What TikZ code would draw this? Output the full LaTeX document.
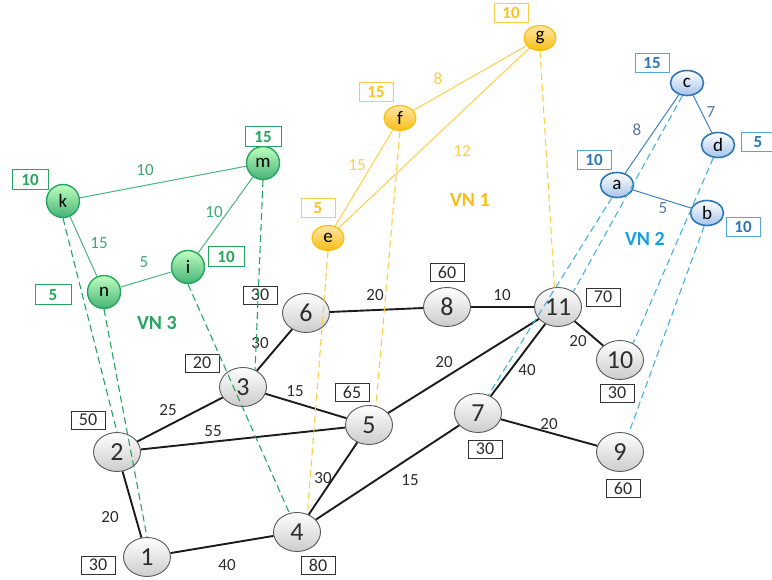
\documentclass[tikz,border=0pt]{standalone}
\usepackage{fontspec}
\setmainfont{Carlito}
\usetikzlibrary{shapes.geometric}

\definecolor{pline}{RGB}{28,28,28}
\definecolor{ptext}{RGB}{45,45,45}
\definecolor{vgreen}{RGB}{36,166,94}
\definecolor{vgreenL}{RGB}{72,182,122}
\definecolor{vgreenT}{RGB}{62,170,112}
\definecolor{vgold}{RGB}{248,190,20}
\definecolor{vgoldL}{RGB}{252,206,70}
\definecolor{vgoldT}{RGB}{250,194,30}
\definecolor{vblue}{RGB}{46,117,182}
\definecolor{vblueL}{RGB}{70,176,226}
\definecolor{vblueB}{RGB}{84,166,216}
\definecolor{vblueE}{RGB}{64,128,190}
\definecolor{vblueT}{RGB}{88,118,160}
\definecolor{vblueF}{RGB}{165,195,235}
\definecolor{vnblue}{RGB}{24,160,226}

\newcommand{\fs}[1]{\fontsize{#1}{#1}\selectfont}

\tikzset{
  phys/.style={ellipse, draw=black!65, line width=0.9pt, top color=white,
    bottom color=black!20, minimum width=47, minimum height=39, inner sep=0,
    font=\fs{26}, text=ptext},
  pcap/.style={draw=black!80, line width=0.9pt, fill=white, minimum width=34,
    minimum height=18, inner sep=0, font=\fs{18}, text=ptext},
  pw/.style={font=\fs{17}, text=ptext, inner sep=1},
  plink/.style={draw=pline, line width=1.9pt},
  % third virtual network (green)
  gnode/.style={circle, draw=vgreen, line width=1.4pt, top color=green!25!white,
    bottom color=vgreen!85, minimum size=33, inner sep=0, font=\fs{19}},
  gcap/.style={draw=vgreen, line width=1pt, fill=white, minimum width=36,
    minimum height=20, inner sep=0, font=\fs{17}\bfseries, text=vgreen},
  gw/.style={font=\fs{17}, text=vgreenT, inner sep=1},
  glink/.style={draw=vgreenL, line width=1pt},
  gmap/.style={draw=vgreen, line width=1.1pt, dash pattern=on 7pt off 4pt},
  % first virtual network (gold)
  ynode/.style={ellipse, draw=vgold, line width=1.2pt, top color=yellow!45!orange!35!white,
    bottom color=vgold, minimum width=32, minimum height=25, inner sep=0, font=\fs{19}},
  ycap/.style={draw=vgoldL, line width=1pt, fill=white, minimum width=34,
    minimum height=19, inner sep=0, font=\fs{17}\bfseries, text=vgoldT},
  yw/.style={font=\fs{17}, text=vgoldL, inner sep=1},
  ylink/.style={draw=vgoldL, line width=1pt},
  ymap/.style={draw=vgoldL, line width=1.1pt, dash pattern=on 7pt off 4pt},
  % second virtual network (blue)
  bnode/.style={ellipse, draw=vblue, line width=1.6pt, top color=white,
    bottom color=vblueF, minimum width=33, minimum height=25,
    inner sep=0, font=\fs{19}},
  bcap/.style={draw=vblueB, line width=1pt, fill=white, minimum width=34,
    minimum height=19, inner sep=0, font=\fs{17}\bfseries, text=vblue},
  bw/.style={font=\fs{17}, text=vblueT, inner sep=1},
  blink/.style={draw=vblueE, line width=1pt},
  bmap/.style={draw=vblueL, line width=1.1pt, dash pattern=on 7pt off 4pt},
  vnlabel/.style={font=\fs{20}\bfseries, inner sep=1},
}

\begin{document}
\begin{tikzpicture}[x=1pt, y=-1pt]
\useasboundingbox (0,0) rectangle (772,580);

% ---------- substrate network ----------
\node[phys] (n1)  at (147,557) {1};
\node[phys] (n2)  at (117,452) {2};
\node[phys] (n3)  at (243,387) {3};
\node[phys] (n4)  at (297,532) {4};
\node[phys] (n5)  at (369,425) {5};
\node[phys] (n6)  at (306,313) {6};
\node[phys] (n7)  at (478,413) {7};
\node[phys] (n8)  at (447,307) {8};
\node[phys] (n9)  at (620,452) {9};
\node[phys] (n10) at (620,360) {10};
\node[phys] (n11) at (558,307) {11};

\draw[plink] (n6) -- (n8);
\draw[plink] (n8) -- (n11);
\draw[plink] (n3) -- (n6);
\draw[plink] (n3) -- (n5);
\draw[plink] (n2) -- (n3);
\draw[plink] (n2) -- (n5);
\draw[plink] (n2) -- (n1);
\draw[plink] (n1) -- (n4);
\draw[plink] (n5) -- (n4);
\draw[plink] (n4) -- (n7);
\draw[plink] (n5) -- (n11);
\draw[plink] (n11) -- (n7);
\draw[plink] (n11) -- (n10);
\draw[plink] (n7) -- (n9);

% link weights
\node[pw] (w68)   at (375,295) {20};
\node[pw] (w811)  at (502,295) {10};
\node[pw] (w36)   at (260,343) {30};
\node[pw] (w35)   at (295,391) {15};
\node[pw] (w23)   at (168,410) {25};
\node[pw] (w25)   at (213,431) {55};
\node[pw] (w12)   at (110,517) {20};
\node[pw] (w14)   at (227,565) {40};
\node[pw] (w45)   at (323,478) {30};
\node[pw] (w47)   at (410,480) {15};
\node[pw] (w511)  at (444,362) {20};
\node[pw] (w711)  at (527,370) {40};
\node[pw] (w1011) at (578,341) {20};
\node[pw] (w79)   at (549,424) {20};

% node capacities
\node[pcap] (c1)  at (98,565)  {30};
\node[pcap] (c2)  at (88,420)  {50};
\node[pcap] (c3)  at (202,363) {20};
\node[pcap] (c4)  at (318,565) {80};
\node[pcap] (c5)  at (352,392) {65};
\node[pcap] (c6)  at (260,295) {30};
\node[pcap] (c8)  at (447,272) {60};
\node[pcap] (c11) at (603,297) {70};
\node[pcap] (c10) at (617,393) {30};
\node[pcap] (c7)  at (485,449) {30};
\node[pcap] (c9)  at (623,488) {60};

% ---------- VN 3 ----------
\node[gnode] (k) at (63,201)  {k};
\node[gnode] (m) at (263,163) {m};
\node[gnode] (i) at (188,267) {i};
\node[gnode] (n) at (104,292) {n};
\draw[glink] (k) -- (m);
\draw[glink] (m) -- (i);
\draw[glink] (k) -- (n);
\draw[glink] (n) -- (i);
\node[gw] (wkm) at (145,170) {10};
\node[gw] (wmi) at (214,212) {10};
\node[gw] (wkn) at (99,243)  {15};
\node[gw] (wni) at (144,262) {5};
\node[gcap] (ck) at (30,180)  {10};
\node[gcap] (cm) at (263,137) {15};
\node[gcap] (ci) at (226,257) {10};
\node[gcap] (cn) at (53,295)  {5};
\node[vnlabel, text=vgreen] (vn3) at (157,323) {VN 3};

% ---------- VN 1 ----------
\node[ynode] (g) at (540,38)  {g};
\node[ynode] (f) at (400,118) {f};
\node[ynode] (e) at (328,238) {e};
\draw[ylink] (f) -- (g);
\draw[ylink] (g) -- (e);
\draw[ylink] (e) -- (f);
\node[yw] (wfg) at (438,79)  {8};
\node[yw] (wge) at (462,151) {12};
\node[yw] (wef) at (357,165) {15};
\node[ycap] (cg) at (511,13) {10};
\node[ycap] (cf) at (376,92) {15};
\node[ycap] (ce) at (318,208) {5};
\node[vnlabel, text=vgold] (vn1) at (470,200) {VN 1};

% ---------- VN 2 ----------
\node[bnode] (c) at (687,83)  {c};
\node[bnode] (d) at (718,145) {d};
\node[bnode] (a) at (617,185) {a};
\node[bnode] (b) at (707,213) {b};
\draw[blink] (a) -- (c);
\draw[blink] (c) -- (d);
\draw[blink] (a) -- (b);
\node[bw] (wac) at (637,130) {8};
\node[bw] (wcd) at (711,112) {7};
\node[bw] (wab) at (663,208) {5};
\node[bcap] (cc) at (652,63)  {15};
\node[bcap] (cd) at (758,142) {5};
\node[bcap] (ca) at (594,160) {10};
\node[bcap] (cb) at (743,227) {10};
\node[vnlabel, text=vnblue] (vn2) at (645,239) {VN 2};

% ---------- embeddings ----------
\draw[gmap] (k.south) -- (n2.north);
\draw[gmap] (n.south) -- (n1.north);
\draw[gmap] (i.south) -- (n4.112);
\draw[gmap] (m.south) -- (n3.55);

\draw[ymap] (e.south) -- (n4.60);
\draw[ymap] (f.south) -- (n5.70);
\draw[ymap] (g.south) -- (n11.100);

\draw[bmap] (a.248) -- (n7.60);
\draw[bmap] (c.250) -- (n11.45);
\draw[bmap] (d.250) -- (n10.52);
\draw[bmap] (b.258) -- (n9.65);
\end{tikzpicture}
\end{document}
